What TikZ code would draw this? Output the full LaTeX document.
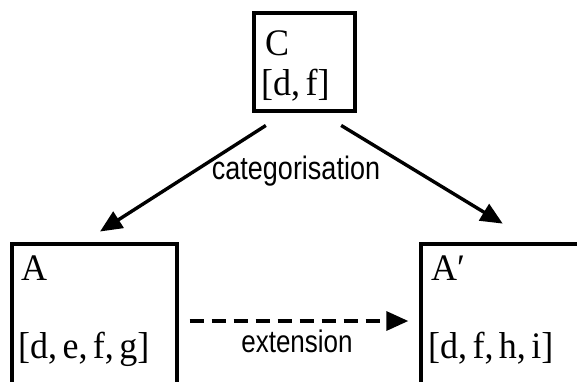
\documentclass[tikz,border=0pt]{standalone}
\usepackage{fontspec}
\usepackage{graphicx}
\setmainfont{Liberation Serif}[WordSpace=0.6]
\setsansfont{Liberation Sans}
\usetikzlibrary{arrows.meta}
\newcommand{\tallish}[2][1.2]{\scalebox{1}[#1]{#2}}

\begin{document}
\begin{tikzpicture}[
        x=1pt, y=-1pt,
        box/.style={draw, line width=3.4pt, inner sep=0pt},
        boxtext/.style={font=\fontsize{36}{42}\selectfont, inner sep=0pt, anchor=base west},
        lbl/.style={font=\sffamily\fontsize{27}{32}\selectfont, inner sep=0pt, anchor=base},
        arrow/.style={-{Triangle[length=22pt,width=19pt]}, line width=3.4pt}
    ]
        \useasboundingbox (0,0) rectangle (577,381);
        \clip (0,0) rectangle (577,381);

        % Boxes
        \node[box, minimum width=101pt, minimum height=98pt] (C) at (304.5,62) {};
        \node[box, minimum width=165pt, minimum height=154pt] (A) at (94.5,321) {};
        \node[box, minimum width=169pt, minimum height=154pt] (A2) at (505.5,321) {};

        % Box contents
        \node[boxtext] (Cname) at (265,55) {\tallish[1.04]{C}};
        \node[boxtext] (Cset) at (261,95) {\tallish[1.04]{[d, f]}};
        \node[boxtext] (Aname) at (21,280) {\tallish[1.04]{A}};
        \node[boxtext] (Aset) at (18,358) {\tallish[1.04]{[d, e, f, g]}};
        \node[boxtext] (A2name) at (431,280) {\tallish[1.04]{A′}};
        \node[boxtext] (A2set) at (428,358) {\tallish[1.04]{[d, f, h, i]}};

        % Arrows
        \draw[arrow, shorten <=23.7pt, shorten >=20pt] ([xshift=-18.7pt]C.south) -- ([xshift=-11.3pt]A.north);
        \draw[arrow, shorten <=24.5pt, shorten >=36pt] ([xshift=15.7pt]C.south) -- ([xshift=28pt]A2.north);
        \draw[arrow, dash pattern=on 14pt off 8pt, shorten <=11pt, shorten >=11pt] (A.east) -- (A2.west);

        % Labels
        \node[lbl] (catlabel) at (296,179) {\tallish{categorisation}};
        \node[lbl, font=\sffamily\fontsize{26}{31}\selectfont] (extlabel) at (297,352) {\tallish{extension}};
    \end{tikzpicture}
\end{document}
